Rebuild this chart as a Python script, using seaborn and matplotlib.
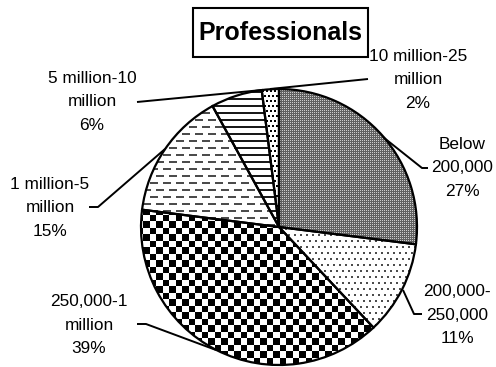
import numpy as np
import matplotlib
matplotlib.use("Agg")
import matplotlib.pyplot as plt
from matplotlib.patches import Rectangle
import seaborn as sns

# Income bands and their share of professionals (%)
categories = ["Below\n200,000", "200,000-\n250,000", "250,000-1\nmillion",
              "1 million-5\nmillion", "5 million-10\nmillion", "10 million-25\nmillion"]
shares = [27, 11, 39, 15, 6, 2]
title = "Professionals"

W, H = 496, 367
sns.set_theme(style="white")
plt.rcParams["font.family"] = ["Liberation Sans", "DejaVu Sans"]

fig = plt.figure(figsize=(W / 100, H / 100), dpi=100)
ax = fig.add_axes([0, 0, 1, 1])
ax.set_axis_off()

def Y(y):
    # pixel row (top-down) -> data y (bottom-up)
    return H - y

cx, cy, R = 279, Y(227), 138

wedges, _ = ax.pie(shares, startangle=90, counterclock=False, center=(cx, cy),
                   radius=R, frame=True,
                   wedgeprops=dict(facecolor="none", edgecolor="black",
                                   linewidth=1.6, zorder=3))

# pixel-aligned fill patterns, one per wedge
r, c = np.mgrid[0:H, 0:W]

def gray(v):
    return np.dstack([v, v, v])

pat_fine = 0.38 + 0.42 * ((r % 2 == 0) & (c % 2 == 0))
dots_off = ((r % 12) < 6) * 3
pat_dots = np.where(((r % 6) < 2) & (((c + dots_off) % 6) < 2), 0.3, 1.0)
pat_check = np.where(((r * 2 // 13) + (c * 2 // 13)) % 2 == 0, 0.0, 1.0)
dash_off = ((r % 14) < 7) * 6
pat_dash = np.where(((r % 7) < 2) & (((c + dash_off) % 13) < 8), 0.3, 1.0)
pat_lines = np.where((r % 7) < 2, 0.1, 1.0)
dd_off = ((r % 10) < 5) * 2
pat_bigdots = np.where(((r % 5) < 2) & (((c + dd_off) % 4) < 2), 0.0, 1.0)

patterns = [pat_fine, pat_dots, pat_check, pat_dash, pat_lines, pat_bigdots]
for w, p in zip(wedges, patterns):
    im = ax.imshow(gray(p), extent=(0, W, 0, H), origin="upper",
                   interpolation="nearest", zorder=1)
    im.set_clip_path(w)

# labels: (label centre x, centre y of middle line) and leader polyline
label_pos = [(462, 168), (457, 315), (89, 325), (50, 208), (92, 102), (418, 80)]
leaders = [
    [(383, 137), (422, 168), (428, 168)],
    [(403, 290), (414, 314), (422, 314)],
    [(137, 324), (146, 324), (216, 350)],
    [(89, 207), (98, 207), (165, 149)],
    [(137, 102), (262, 90)],
    [(270, 89), (368, 79)],
]
txt_font = dict(fontsize=12.4, color="black")
for cat, v, (lx, ly), pts in zip(categories, shares, label_pos, leaders):
    ax.text(lx, Y(ly), f"{cat}\n{v}%", ha="center", va="center",
            multialignment="center", linespacing=1.74, **txt_font)
    xs, ys = zip(*pts)
    ax.plot(xs, [Y(y) for y in ys], color="black", lw=1.4, zorder=4,
            solid_capstyle="butt")

ax.add_patch(Rectangle((193, Y(57)), 175, 49, facecolor="white",
                       edgecolor="black", linewidth=1.5, zorder=5))
ax.text(280.5, Y(33), title, ha="center", va="center", fontsize=18,
        fontweight="bold", color="black", zorder=6)

ax.set_xlim(0, W)
ax.set_ylim(0, H)
ax.set_aspect("equal")
fig.savefig("out.png", dpi=100, facecolor="white")
